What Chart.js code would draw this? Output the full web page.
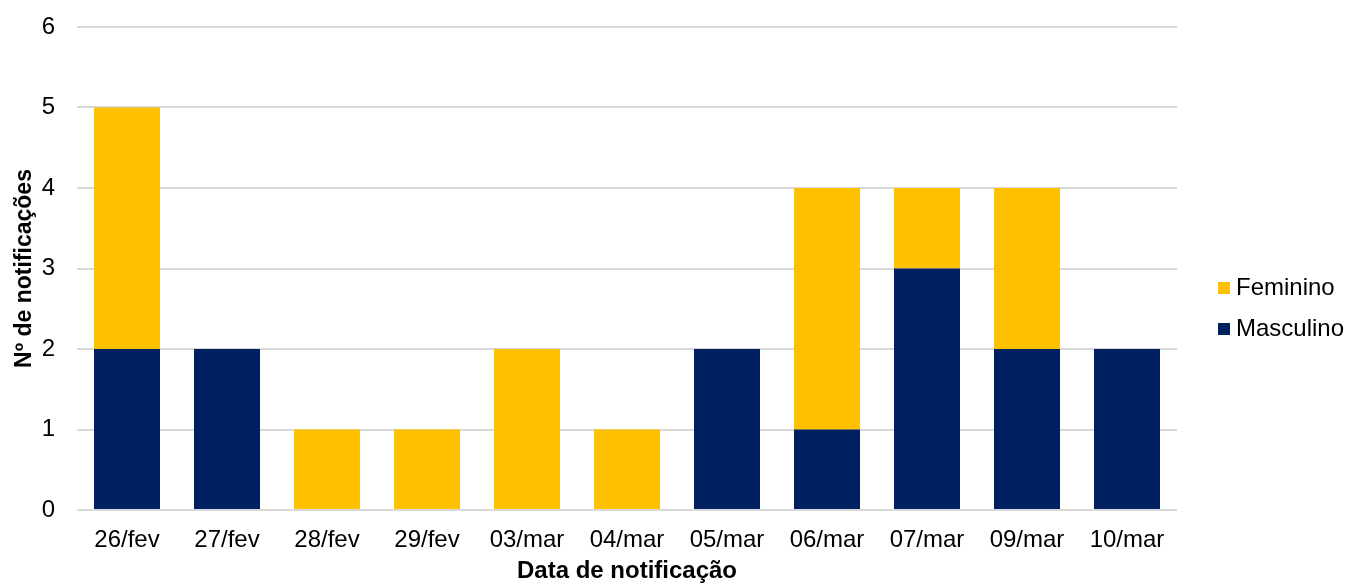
<!DOCTYPE html>
<html lang="pt">
<head>
<meta charset="utf-8">
<title>Notificações por data e sexo</title>
<script src="https://cdn.jsdelivr.net/npm/chart.js@4.4.1/dist/chart.umd.min.js"></script>
<style>
  html, body { margin: 0; padding: 0; background: #ffffff; }
  #wrap { width: 1346px; height: 584px; }
</style>
</head>
<body>
<div id="wrap"><canvas id="chart" width="1346" height="584"></canvas></div>
<script>
// Notification dates (x axis categories)
const categories = ['26/fev', '27/fev', '28/fev', '29/fev', '03/mar', '04/mar', '05/mar', '06/mar', '07/mar', '09/mar', '10/mar'];
// Counts by sex, stacked (Masculino at the bottom, Feminino on top)
const masculino = [2, 2, 0, 0, 0, 0, 2, 1, 3, 2, 2];
const feminino  = [3, 0, 1, 1, 2, 1, 0, 3, 1, 2, 0];
// Y axis range / step
const yMin = 0;
const yMax = 6;
const yStep = 1;

const FONT = "'Liberation Sans', Arial, sans-serif";
const COLOR_MASC = '#002060';
const COLOR_FEM = '#FFC000';

// Legend on the right, listed top-down in reverse stacking order
const sideLegend = {
  id: 'sideLegend',
  afterDraw(chart) {
    const ctx = chart.ctx;
    const items = chart.data.datasets.slice().reverse();
    const x0 = 1218, y0 = 288, gap = 41, box = 12;
    ctx.save();
    ctx.font = '24px ' + FONT;
    ctx.textBaseline = 'middle';
    ctx.textAlign = 'left';
    items.forEach((ds, i) => {
      const y = y0 + i * gap;
      ctx.fillStyle = ds.backgroundColor;
      ctx.fillRect(x0, y - box / 2, box, box);
      ctx.fillStyle = '#000000';
      ctx.fillText(ds.label, x0 + 18, y);
    });
    ctx.restore();
  }
};

new Chart(document.getElementById('chart'), {
  type: 'bar',
  data: {
    labels: categories,
    datasets: [
      { label: 'Masculino', data: masculino, backgroundColor: COLOR_MASC, borderWidth: 0 },
      { label: 'Feminino', data: feminino, backgroundColor: COLOR_FEM, borderWidth: 0 }
    ]
  },
  options: {
    responsive: false,
    animation: false,
    maintainAspectRatio: false,
    layout: { padding: { top: 27, right: 169, bottom: 0, left: 0 } },
    datasets: { bar: { categoryPercentage: 1.0, barPercentage: 0.66 } },
    plugins: {
      legend: { display: false },
      tooltip: { enabled: false }
    },
    scales: {
      x: {
        stacked: true,
        grid: { display: false, drawTicks: false },
        border: { display: false },
        ticks: { color: '#000000', font: { family: FONT, size: 24 }, padding: 16, maxRotation: 0 },
        title: {
          display: true,
          text: 'Data de notificação',
          color: '#000000',
          font: { family: FONT, size: 24, weight: 'bold' },
          padding: { top: 0, bottom: -2 }
        },
        afterFit(scale) { scale.height = 74; }
      },
      y: {
        stacked: true,
        min: yMin,
        max: yMax,
        ticks: { stepSize: yStep, color: '#000000', font: { family: FONT, size: 24 }, padding: 12 },
        grid: { color: '#d9d9d9', lineWidth: 2, drawTicks: true, tickLength: 10, tickColor: 'rgba(0,0,0,0)' },
        border: { display: false },
        title: {
          display: true,
          text: 'Nº de notificações',
          color: '#000000',
          font: { family: FONT, size: 23, weight: 'bold' },
          padding: { top: 11, bottom: 0 }
        },
        afterFit(scale) { scale.width = 77; }
      }
    }
  },
  plugins: [sideLegend]
});
</script>
</body>
</html>
